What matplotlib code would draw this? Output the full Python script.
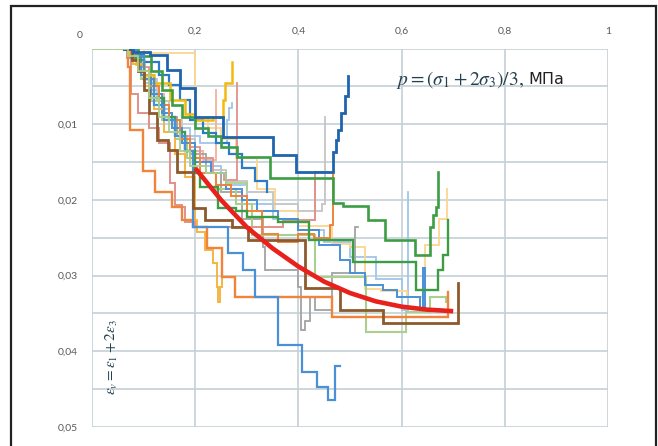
import matplotlib
matplotlib.use("Agg")
import matplotlib.pyplot as plt
from matplotlib.patches import Rectangle

plt.rcParams['mathtext.fontset'] = 'stix'
plt.rcParams['font.family'] = ['Lato', 'DejaVu Sans']

# ---- data: step series (pressure p, volumetric strain) ----
s1_x = [0.062, 0.08, 0.112, 0.145, 0.171, 0.2, 0.254, 0.351, 0.395, 0.467, 0.472, 0.477, 0.483, 0.49, 0.496]
s1_y = [0, 0.0004, 0.0009, 0.0028, 0.0052, 0.009, 0.0117, 0.0141, 0.0163, 0.0137, 0.0121, 0.0108, 0.0085, 0.0063, 0.0036]

s2_x = [0.062, 0.085, 0.1, 0.12, 0.14, 0.16, 0.18, 0.195, 0.264, 0.293, 0.316, 0.36, 0.407, 0.436, 0.457, 0.471, 0.48]
s2_y = [0, 0.001, 0.004, 0.0075, 0.0095, 0.0115, 0.0135, 0.0236, 0.027, 0.0293, 0.0328, 0.0392, 0.0427, 0.0447, 0.0464, 0.042, 0.042]

s3_x = [0.062, 0.07, 0.074, 0.099, 0.122, 0.155, 0.174, 0.196, 0.223, 0.252, 0.277, 0.465, 0.69]
s3_y = [0, 0.0024, 0.0108, 0.0162, 0.019, 0.0209, 0.0226, 0.0236, 0.0264, 0.0302, 0.0328, 0.0355, 0.0322]

s4_x = [0.062, 0.075, 0.09, 0.11, 0.13, 0.15, 0.17, 0.19, 0.21, 0.24, 0.27, 0.3, 0.33, 0.36, 0.4, 0.43, 0.462, 0.468]
s4_y = [0, 0.001, 0.003, 0.005, 0.0075, 0.0095, 0.012, 0.0145, 0.0165, 0.018, 0.0195, 0.0215, 0.0245, 0.0255, 0.0245, 0.025, 0.0233, 0.0163]

s5_x = [0.062, 0.09, 0.115, 0.135, 0.155, 0.175, 0.2, 0.225, 0.25, 0.281, 0.345, 0.467, 0.486, 0.535, 0.568, 0.626, 0.655, 0.661, 0.667, 0.671]
s5_y = [0, 0.001, 0.003, 0.0055, 0.0075, 0.009, 0.0105, 0.0115, 0.013, 0.0143, 0.0171, 0.0204, 0.0208, 0.0227, 0.0253, 0.0273, 0.0236, 0.022, 0.0209, 0.0163]

s6_x = [0.062, 0.085, 0.1, 0.12, 0.14, 0.16, 0.18, 0.2, 0.21, 0.245, 0.28, 0.3, 0.36, 0.42, 0.506, 0.628, 0.671, 0.68, 0.69]
s6_y = [0, 0.0015, 0.004, 0.0065, 0.009, 0.011, 0.0135, 0.0165, 0.0183, 0.0211, 0.0215, 0.0222, 0.0229, 0.0253, 0.0282, 0.0319, 0.0293, 0.0273, 0.0227]

s7_x = [0.062, 0.078, 0.09, 0.1, 0.11, 0.126, 0.147, 0.165, 0.196, 0.219, 0.271, 0.302, 0.413, 0.48, 0.564, 0.709]
s7_y = [0, 0.0015, 0.003, 0.0055, 0.0085, 0.0121, 0.0134, 0.0163, 0.0211, 0.0226, 0.0236, 0.0253, 0.0317, 0.0345, 0.0363, 0.031]

s8_x = [0.062, 0.075, 0.095, 0.115, 0.135, 0.16, 0.185, 0.21, 0.24, 0.28, 0.31, 0.432, 0.531, 0.608, 0.655, 0.686]
s8_y = [0, 0.001, 0.004, 0.007, 0.0095, 0.012, 0.0145, 0.0165, 0.0185, 0.0205, 0.0247, 0.0302, 0.0374, 0.0348, 0.0328, 0.0335]

s9_x = [0.062, 0.08, 0.1, 0.12, 0.14, 0.165, 0.19, 0.22, 0.25, 0.29, 0.331, 0.335, 0.4, 0.405, 0.413, 0.422, 0.432, 0.465, 0.51, 0.516]
s9_y = [0, 0.001, 0.0035, 0.0065, 0.009, 0.0115, 0.014, 0.0165, 0.019, 0.0225, 0.0262, 0.0293, 0.0315, 0.0372, 0.036, 0.0328, 0.0345, 0.0297, 0.0236, 0.0236]

s10_x = [0.062, 0.07, 0.085, 0.1, 0.12, 0.152, 0.18, 0.2, 0.235, 0.254, 0.258, 0.264, 0.271]
s10_y = [0, 0.0008, 0.002, 0.0035, 0.0046, 0.0068, 0.0087, 0.0094, 0.0091, 0.0068, 0.0046, 0.0045, 0.0018]

s11_x = [0.062, 0.08, 0.1, 0.12, 0.14, 0.16, 0.18, 0.2, 0.204, 0.219, 0.235, 0.242, 0.244, 0.248, 0.252]
s11_y = [0, 0.002, 0.005, 0.008, 0.011, 0.014, 0.017, 0.0226, 0.0243, 0.0266, 0.0283, 0.0315, 0.0335, 0.0315, 0.0295]

s12_x = [0.062, 0.1, 0.2, 0.225, 0.25, 0.28, 0.32, 0.355, 0.4, 0.465, 0.5, 0.53, 0.56, 0.61, 0.64, 0.645, 0.665, 0.672, 0.688]
s12_y = [0, 0.0006, 0.0092, 0.0105, 0.012, 0.0145, 0.0185, 0.0215, 0.0235, 0.0258, 0.0262, 0.0318, 0.032, 0.0328, 0.0328, 0.026, 0.026, 0.0225, 0.0185]

s13_x = [0.062, 0.08, 0.1, 0.12, 0.14, 0.16, 0.185, 0.21, 0.25, 0.3, 0.35, 0.4, 0.45, 0.5, 0.55, 0.6, 0.613]
s13_y = [0, 0.002, 0.0045, 0.007, 0.0095, 0.0115, 0.0135, 0.0155, 0.018, 0.0205, 0.0225, 0.024, 0.0255, 0.0275, 0.0305, 0.0345, 0.019]

s14_x = [0.062, 0.075, 0.095, 0.115, 0.135, 0.155, 0.175, 0.2, 0.23, 0.26, 0.29, 0.32, 0.36, 0.4, 0.44, 0.48, 0.5, 0.529, 0.564, 0.591, 0.636, 0.641, 0.645, 0.65]
s14_y = [0, 0.0012, 0.0035, 0.006, 0.0085, 0.0105, 0.0125, 0.015, 0.0165, 0.0185, 0.02, 0.0215, 0.0225, 0.024, 0.026, 0.0279, 0.0297, 0.0312, 0.0319, 0.0328, 0.0345, 0.029, 0.0345, 0.0345]

s15_x = [0.062, 0.07, 0.09, 0.11, 0.13, 0.15, 0.17, 0.19, 0.21, 0.235, 0.255, 0.27, 0.281]
s15_y = [0, 0.0008, 0.0025, 0.005, 0.0075, 0.0095, 0.0115, 0.013, 0.0145, 0.0165, 0.0174, 0.0174, 0.0045]

s16_x = [0.062, 0.068, 0.075, 0.09, 0.11, 0.13, 0.151, 0.161, 0.174, 0.18, 0.2, 0.37, 0.432, 0.46]
s16_y = [0, 0.0012, 0.006, 0.0085, 0.0105, 0.0125, 0.0178, 0.0207, 0.0209, 0.0229, 0.0236, 0.0226, 0.0163, 0.0163]

s17_x = [0.062, 0.075, 0.095, 0.115, 0.14, 0.165, 0.19, 0.215, 0.235, 0.24]
s17_y = [0, 0.001, 0.003, 0.006, 0.009, 0.0115, 0.0135, 0.0147, 0.0147, 0.0055]

s18_x = [0.062, 0.08, 0.1, 0.125, 0.15, 0.175, 0.2, 0.23, 0.26, 0.3, 0.35, 0.4, 0.445, 0.452]
s18_y = [0, 0.0015, 0.004, 0.007, 0.0095, 0.012, 0.0145, 0.016, 0.0175, 0.019, 0.0205, 0.0215, 0.0205, 0.009]

s19_x = [0.062, 0.07, 0.09, 0.11, 0.13, 0.15, 0.17, 0.19, 0.21, 0.24, 0.262, 0.266, 0.272]
s19_y = [0, 0.0008, 0.003, 0.0055, 0.008, 0.0095, 0.0105, 0.0115, 0.0125, 0.0125, 0.0095, 0.0078, 0.0072]

s20_x = [0, 0.07, 0.09, 0.11, 0.13, 0.15, 0.17, 0.19, 0.22, 0.26, 0.3]
s20_y = [0, 0.001, 0.003, 0.0065, 0.009, 0.011, 0.0135, 0.0155, 0.0165, 0.0178, 0.0185]

s21_x = [0.062, 0.08, 0.1, 0.13, 0.15, 0.17, 0.19, 0.215, 0.24, 0.265, 0.29, 0.315, 0.34]
s21_y = [0, 0.0008, 0.0018, 0.0035, 0.0048, 0.0068, 0.0095, 0.0112, 0.0125, 0.014, 0.0158, 0.0175, 0.019]

# fitted trend (red)
fit_x = [0.2, 0.25, 0.3, 0.35, 0.4, 0.45, 0.5, 0.55, 0.6, 0.65, 0.7]
fit_y = [0.0158, 0.0200, 0.0236, 0.0264, 0.0288, 0.0308, 0.0323, 0.0334, 0.0341, 0.0345, 0.0347]

x_ticks = [0, 0.2, 0.4, 0.6, 0.8, 1.0]
x_labels = ['', '0,2', '0,4', '0,6', '0,8', '1']
y_ticks = [0, 0.005, 0.01, 0.015, 0.02, 0.025, 0.03, 0.035, 0.04, 0.045, 0.05]
y_labels = ['', '', '0,01', '', '0,02', '', '0,03', '', '0,04', '', '0,05']

DBLUE = '#1f64ad'; MBLUE = '#4a90d6'; LBLUE = '#9fc6e9'; BLUE2 = '#2b7bc6'
ORANGE = '#f0843a'; SALMON = '#e0928a'; LSALMON = '#f3b09a'
GOLD = '#f2ba10'; GOLD2 = '#f5b445'; LGOLD = '#fbd590'
GREEN = '#3d9d45'; LGREEN = '#a9d08c'; GRAY = '#a3a3a3'; LGRAY = '#c4c4c4'
BROWN = '#8c5a2c'; RED = '#e8211c'

series = [
    (s13_x, s13_y, LBLUE, 1.3), (s19_x, s19_y, LBLUE, 1.3),
    (s12_x, s12_y, LGOLD, 1.3), (s17_x, s17_y, LSALMON, 1.3), (s18_x, s18_y, LGRAY, 1.3),
    (s9_x, s9_y, GRAY, 1.3), (s8_x, s8_y, LGREEN, 1.5), (s15_x, s15_y, SALMON, 1.3),
    (s16_x, s16_y, SALMON, 1.4), (s14_x, s14_y, MBLUE, 1.4), (s11_x, s11_y, GOLD2, 1.4),
    (s4_x, s4_y, ORANGE, 1.4), (s3_x, s3_y, ORANGE, 1.7), (s21_x, s21_y, BLUE2, 1.6),
    (s10_x, s10_y, GOLD, 1.8), (s6_x, s6_y, GREEN, 1.7), (s5_x, s5_y, GREEN, 1.9),
    (s2_x, s2_y, MBLUE, 1.6), (s7_x, s7_y, BROWN, 2.0), (s1_x, s1_y, DBLUE, 2.0),
    (s20_x, s20_y, LGREEN, 1.3),
]

fig = plt.figure(figsize=(6.58, 4.46), dpi=100)
fig.patch.set_facecolor('white')
ax = fig.add_axes([92 / 658, 1 - 427 / 446, 516 / 658, (427 - 48.5) / 446])

for xs, ys, c, lw in series:
    ax.plot(xs, ys, drawstyle='steps-post', color=c, lw=lw, solid_joinstyle='miter')

ax.plot(fit_x, fit_y, color=RED, lw=3.3, solid_capstyle='butt', zorder=5)

ax.set_xlim(0, 1)
ax.set_ylim(0.05, 0)
ax.xaxis.tick_top()
ax.set_xticks(x_ticks)
ax.set_xticklabels(x_labels)
ax.set_yticks(y_ticks)
ax.set_yticklabels(y_labels)
ax.tick_params(length=0, labelsize=7.5, colors='#595959')
ax.tick_params(axis='x', pad=9)
ax.tick_params(axis='y', pad=10)
ax.grid(True, color='#c5d0d4', lw=1.2)
ax.set_axisbelow(True)
for sp in ax.spines.values():
    sp.set_visible(False)

fig.text(80 / 658, 1 - 35 / 446, '0', fontsize=7.5, color='#595959', ha='center', va='center')

t1 = fig.text(396 / 658, 1 - 80 / 446, r'$p = (\sigma_1 + 2\sigma_3)/3,$', fontsize=14,
              color='#24404f', ha='left', va='center')
renderer = fig.canvas.get_renderer()
bb = t1.get_window_extent(renderer=renderer)
fig.text((bb.x1 + 4) / fig.bbox.width, 1 - 79 / 446, 'МПа', fontsize=11.5, color='#222222',
         ha='left', va='center', family=['DejaVu Sans'])

fig.text(112 / 658, 1 - 357 / 446, r'$\varepsilon_v = \varepsilon_1 + 2\varepsilon_3$',
         fontsize=11, color='#24404f', rotation=90, ha='center', va='center')

fig.patches.append(Rectangle((11 / 658, -0.05), (656 - 11) / 658, 1.05 - 5.5 / 446,
                             transform=fig.transFigure, fill=False, edgecolor='#222222', lw=1.6))

fig.savefig('out.png', dpi=100, facecolor='white')
